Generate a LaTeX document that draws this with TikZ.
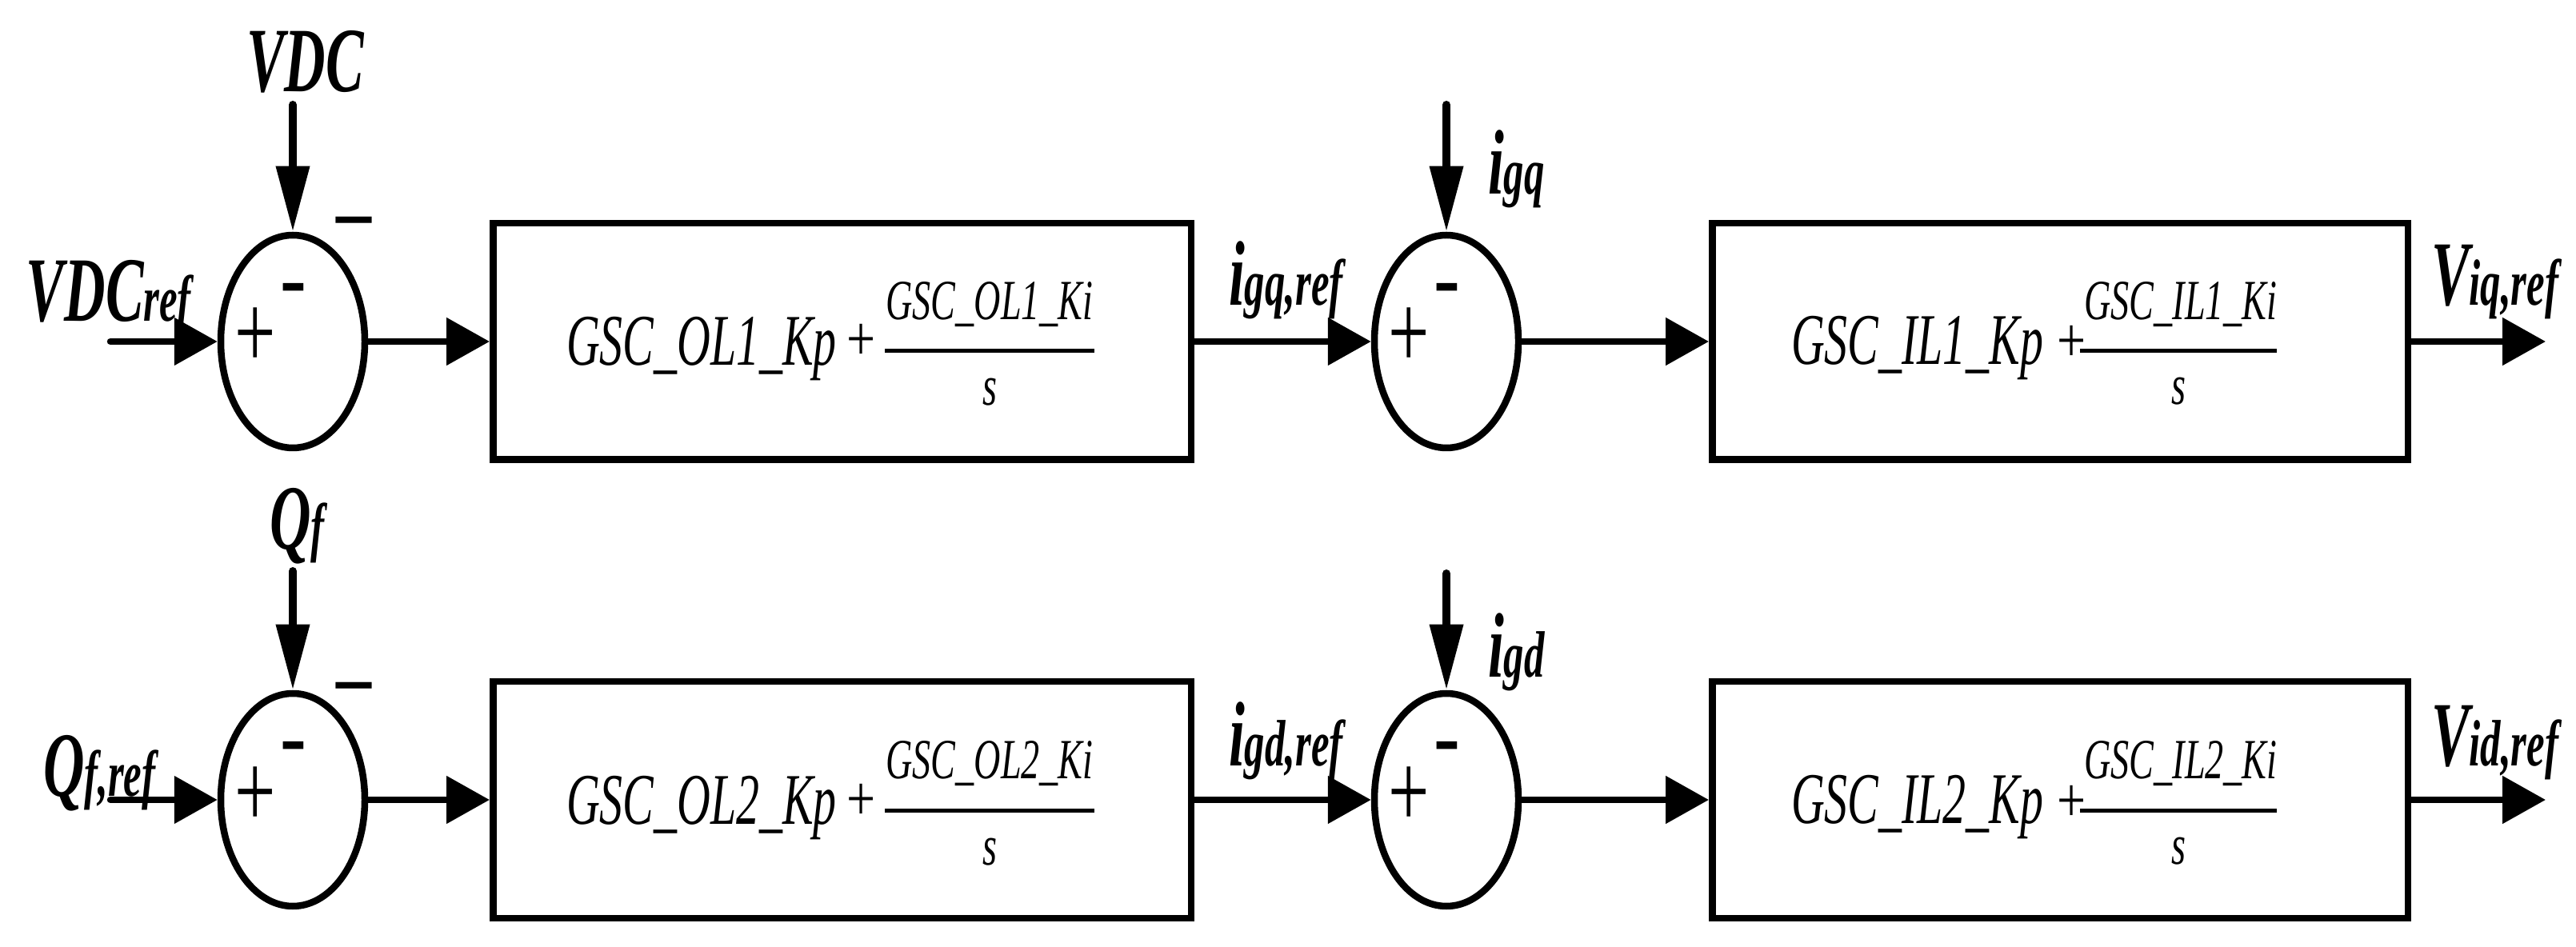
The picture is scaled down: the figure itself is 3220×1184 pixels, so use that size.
\documentclass[tikz,border=0pt]{standalone}
\usepackage{fontspec}
\setmainfont{Liberation Serif}
\usepackage{graphicx}
\usetikzlibrary{arrows.meta,shapes.geometric}
\newcommand\lbl[1]{\scalebox{0.62}[1]{\fontsize{28.75pt}{30pt}\selectfont\bfseries\itshape #1}}
\newcommand\sbs[1]{{\fontsize{20.5pt}{21pt}\selectfont #1}}
\newcommand\bxt[1]{\scalebox{0.636}[1]{\fontsize{22.75pt}{24pt}\selectfont\itshape #1}}
\newcommand\nmt[1]{\scalebox{0.65}[1]{\fontsize{17.75pt}{18pt}\selectfont\itshape #1}}
\newcommand\pls{\scalebox{0.8}[1]{\fontsize{20pt}{20pt}\selectfont +}}
\newcommand\jpl{\scalebox{0.68}[1]{\fontsize{33.5pt}{34pt}\selectfont +}}
\newcommand\jmi{\scalebox{0.88}[1]{\fontsize{28pt}{28pt}\selectfont\bfseries -}}
\newcommand\omi{\scalebox{0.55}[1]{\fontsize{40pt}{40pt}\selectfont\textendash}}
\begin{document}
\begin{tikzpicture}[x=0.25pt,y=-0.25pt,
  txt/.style={inner sep=0pt,outer sep=0pt},
  sumj/.style={draw,ellipse,line width=2.125pt,minimum width=45pt,minimum height=66.5pt,inner sep=0pt},
  blk/.style={draw,rectangle,line width=2.125pt,minimum height=73.875pt,inner sep=0pt},
  conn/.style={line width=2.125pt,line cap=round,-{Triangle[length=13.5pt,width=14.5pt]}},
  fbk/.style={line width=2.5pt,line cap=round,-{Triangle[length=20.5pt,width=10pt]}},
  fbar/.style={line width=1.25pt}]
\useasboundingbox (0,0) rectangle (3220,1184);

% ---------- blocks and junctions ----------
\node[sumj] (s1) at (366,427) {};
\node[blk,minimum width=218.125pt] (b1) at (1052.5,427) {};
\node[sumj] (s2) at (1808,427) {};
\node[blk,minimum width=217.375pt] (b2) at (2575,427) {};
\coordinate (in1) at (138,427);
\coordinate (out1) at (3182,427);
\coordinate (fb1) at (366,131);
\coordinate (fb2) at (1808,131);

\node[sumj] (s3) at (366,1000) {};
\node[blk,minimum width=218.125pt] (b3) at (1052.5,1000) {};
\node[sumj] (s4) at (1808,1000) {};
\node[blk,minimum width=217.375pt] (b4) at (2575,1000) {};
\coordinate (in2) at (138,1000);
\coordinate (out2) at (3182,1000);
\coordinate (fb3) at (366,714);
\coordinate (fb4) at (1808,717);

% ---------- connectors ----------
\draw[conn] (in1) -- (s1.west);
\draw[conn] (s1.east) -- (b1.west);
\draw[conn] (b1.east) -- (s2.west);
\draw[conn] (s2.east) -- (b2.west);
\draw[conn] (b2.east) -- (out1);
\draw[fbk] (fb1) -- (s1.north);
\draw[fbk] (fb2) -- (s2.north);

\draw[conn] (in2) -- (s3.west);
\draw[conn] (s3.east) -- (b3.west);
\draw[conn] (b3.east) -- (s4.west);
\draw[conn] (s4.east) -- (b4.west);
\draw[conn] (b4.east) -- (out2);
\draw[fbk] (fb3) -- (s3.north);
\draw[fbk] (fb4) -- (s4.north);

% ---------- junction signs ----------
\node[txt,anchor=base] (p1) at (319,461) {\jpl};
\node[txt,anchor=base] (m1) at (367,386) {\jmi};
\node[txt,anchor=base] (o1) at (442,313) {\omi};
\node[txt,anchor=base] (p2) at (1761,461) {\jpl};
\node[txt,anchor=base] (m2) at (1809,386) {\jmi};
\node[txt,anchor=base] (p3) at (319,1034) {\jpl};
\node[txt,anchor=base] (m3) at (367,959) {\jmi};
\node[txt,anchor=base] (o3) at (442,895) {\omi};
\node[txt,anchor=base] (p4) at (1761,1034) {\jpl};
\node[txt,anchor=base] (m4) at (1809,959) {\jmi};

% ---------- signal labels ----------
\node[txt,anchor=base west] (tVDC) at (308,115) {\lbl{VDC}};
\node[txt,anchor=base west] (tVDCref) at (33,402) {\lbl{VDC\sbs{ref}}};
\node[txt,anchor=base west] (tigqref) at (1536,382) {\lbl{i\sbs{gq,ref}}};
\node[txt,anchor=base west] (tigq) at (1860,243) {\lbl{i\sbs{gq}}};
\node[txt,anchor=base west] (tViq) at (3039,382) {\lbl{V\sbs{iq,ref}}};
\node[txt,anchor=base west] (tQf) at (337,687) {\lbl{Q\sbs{f}}};
\node[txt,anchor=base west] (tQfref) at (54,995) {\lbl{Q\sbs{f,ref}}};
\node[txt,anchor=base west] (tigdref) at (1536,958) {\lbl{i\sbs{gd,ref}}};
\node[txt,anchor=base west] (tigd) at (1860,847) {\lbl{i\sbs{gd}}};
\node[txt,anchor=base west] (tVid) at (3039,958) {\lbl{V\sbs{id,ref}}};

% ---------- block formulas ----------
\foreach \r/\dy in {1/0,2/574}{
  \node[txt,anchor=base west] (ko\r) at (708,{457+\dy}) {\bxt{GSC\_OL\r\_Kp}};
  \node[txt,anchor=base] (po\r) at (1077,{451+\dy}) {\pls};
  \node[txt,anchor=base] (no\r) at (1237,{400+\dy}) {\nmt{GSC\_OL\r\_Ki}};
  \draw[fbar] (1106,{439+\dy}) -- (1368,{439+\dy});
  \node[txt,anchor=base] (so\r) at (1237,{507+\dy}) {\nmt{s}};
  \node[txt,anchor=base west] (ki\r) at (2239,{456+\dy}) {\bxt{GSC\_IL\r\_Kp}};
  \node[txt,anchor=base] (pi\r) at (2590,{453+\dy}) {\pls};
  \node[txt,anchor=base] (ni\r) at (2726,{400+\dy}) {\nmt{GSC\_IL\r\_Ki}};
  \draw[fbar] (2600,{439+\dy}) -- (2846,{439+\dy});
  \node[txt,anchor=base] (si\r) at (2723,{506+\dy}) {\nmt{s}};
}
\end{tikzpicture}
\end{document}
